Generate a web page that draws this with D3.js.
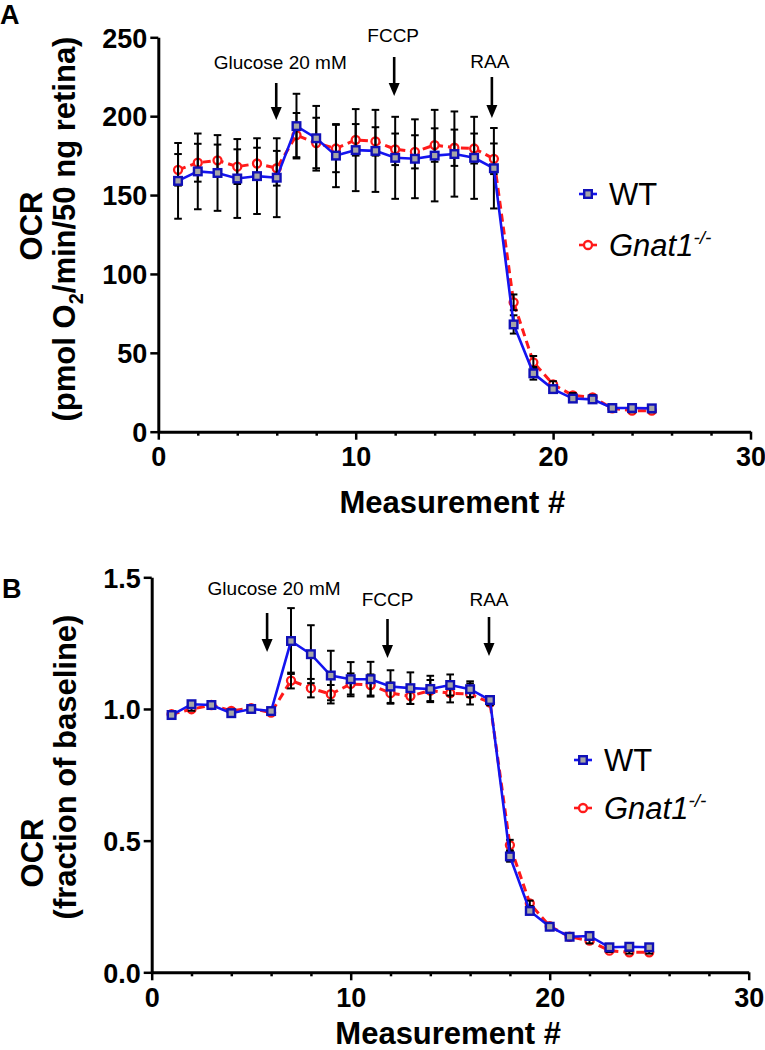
<!DOCTYPE html>
<html><head><meta charset="utf-8">
<script src="https://cdn.jsdelivr.net/npm/d3@7"></script>
<style>
body{margin:0;background:#fff;}
svg{display:block;font-family:"Liberation Sans",Arial,Helvetica,sans-serif;}
</style></head>
<body><svg id="chart" width="765" height="1050"></svg>
<script>
// ---------- data ----------
const measurements = [1,2,3,4,5,6,7,8,9,10,11,12,13,14,15,16,17,18,19,20,21,22,23,24,25];
const seriesNames = ["WT","Gnat1"];

const ocrWT     = [159,165,164,160.5,162,161,193.7,186,175,178.5,178,173.6,173,175,176,173.6,167,68,37,27,21,20.5,15,15,14.8];
const ocrWTErr  = [24,24,24,25,24,25,20.5,20.5,20,26,26,26,25,29,27,26,25.5,5.8,4,2,1.5,1.5,1,1,1];
const ocrKO     = [166,170.5,172,168,170,167,188,183,179.5,185,184,179,177.4,181.7,180,179.5,173,82,44,30,23,21.8,14.8,13.3,13.3];
const ocrKOErr  = [10,12,10,11,10,11,14,16,15,10,9,10,10.5,10.6,11.5,9.5,9.7,5,4,2,1.5,1.5,1,1,1];

const fracWT    = [0.977,1.018,1.015,0.984,1.0,0.992,1.258,1.208,1.127,1.113,1.113,1.085,1.079,1.076,1.091,1.075,1.034,0.44,0.233,0.173,0.135,0.138,0.095,0.097,0.095];
const fracWTErr = [0.005,0.008,0.005,0.008,0.006,0.006,0.125,0.11,0.094,0.065,0.066,0.062,0.06,0.05,0.04,0.03,0.01,0.02,0.01,0.005,0.005,0.015,0.005,0.005,0.005];
const fracKO    = [0.98,0.999,1.015,0.993,1.003,0.986,1.108,1.079,1.056,1.095,1.091,1.06,1.049,1.07,1.06,1.057,1.024,0.483,0.262,0.175,0.135,0.12,0.082,0.076,0.076];
const fracKOErr = [0.005,0.006,0.005,0.005,0.005,0.005,0.03,0.035,0.035,0.04,0.04,0.04,0.03,0.04,0.035,0.04,0.01,0.02,0.01,0.005,0.005,0.01,0.005,0.005,0.005];

const xTicks = [0,10,20,30];
const xMinorTicks = [2,4,6,8,12,14,16,18,22,24,26,28];
const yTicksA = [0,50,100,150,200,250];
const yTicksB = [0,0.5,1.0,1.5];
const injLabels = ["Glucose 20 mM","FCCP","RAA"];
const injAt = [6,12,17];

// ---------- style ----------
const BLUE = "#1414f0", BLUE_DK = "#1010b8", RED = "#ff1a1a", GRAY = "#a6a6a6";
const FONT = "\"Liberation Sans\",Arial,Helvetica,sans-serif";

const svg = d3.select("#chart");

function panel(cfg){
  const g = svg.append("g");
  const x = d3.scaleLinear().domain([0,30]).range([cfg.x0, cfg.x1]);
  const y = d3.scaleLinear().domain(cfg.yDomain).range([cfg.y0, cfg.y1]);

  // axes
  const xa = g.append("g").attr("transform",`translate(0,${cfg.y0})`)
    .call(d3.axisBottom(x).tickValues(xTicks).tickSize(8).tickSizeOuter(0).tickPadding(6).tickFormat(d3.format("d")));
  const xm = g.append("g").attr("transform",`translate(0,${cfg.y0})`)
    .call(d3.axisBottom(x).tickValues(xMinorTicks).tickSize(4).tickSizeOuter(0).tickFormat(""));
  xm.select(".domain").remove();
  const ya = g.append("g").attr("transform",`translate(${cfg.x0},0)`)
    .call(d3.axisLeft(y).tickValues(cfg.yTicks).tickSize(8).tickSizeOuter(0).tickPadding(3).tickFormat(cfg.yFmt));
  [xa,xm,ya].forEach(a=>{
    a.selectAll(".domain").attr("stroke","#000").attr("stroke-width",3);
    a.selectAll(".tick line").attr("stroke","#000").attr("stroke-width",2.5);
    a.selectAll("text").attr("fill","#000").style("font-family",FONT)
      .style("font-size","27px").style("font-weight","bold");
  });
  xa.selectAll(".tick text").attr("dy","0.75em");
  ya.selectAll(".tick text").attr("dy","0.36em");

  // red (Gnat1) line + circles
  const line = d3.line().x((d,i)=>x(measurements[i])).y(d=>y(d));
  g.append("path").datum(cfg.ko).attr("d",line).attr("fill","none")
    .attr("stroke",RED).attr("stroke-width",3).attr("stroke-dasharray","8,5");
  g.append("g").selectAll("circle").data(cfg.ko).join("circle")
    .attr("cx",(d,i)=>x(measurements[i])).attr("cy",d=>y(d)).attr("r",4)
    .attr("fill","#fff").attr("stroke",RED).attr("stroke-width",2.3);

  // error bars
  const eb = g.append("g").attr("stroke","#000").attr("stroke-width",2);
  [[cfg.ko,cfg.koErr],[cfg.wt,cfg.wtErr]].forEach(([v,e])=>{
    v.forEach((d,i)=>{
      const cx = x(measurements[i]), top = y(d+e[i]), bot = y(d-e[i]);
      eb.append("line").attr("x1",cx).attr("x2",cx).attr("y1",top).attr("y2",bot);
      eb.append("line").attr("x1",cx-3.8).attr("x2",cx+3.8).attr("y1",top).attr("y2",top);
      eb.append("line").attr("x1",cx-3.8).attr("x2",cx+3.8).attr("y1",bot).attr("y2",bot);
    });
  });

  // blue (WT) line + squares
  g.append("path").datum(cfg.wt).attr("d",line).attr("fill","none")
    .attr("stroke",BLUE).attr("stroke-width",2.6);
  g.append("g").selectAll("rect").data(cfg.wt).join("rect")
    .attr("x",(d,i)=>x(measurements[i])-3.8).attr("y",d=>y(d)-3.8)
    .attr("width",7.6).attr("height",7.6)
    .attr("fill",GRAY).attr("stroke",BLUE_DK).attr("stroke-width",2.4);

  // injection arrows
  injAt.forEach((m,k)=>{
    const ax = x(m) + cfg.arrowDx[k];
    const a = cfg.arrows[k];
    g.append("line").attr("x1",ax).attr("x2",ax).attr("y1",a[0]).attr("y2",a[1]-10)
      .attr("stroke","#000").attr("stroke-width",2.6);
    g.append("path").attr("d",`M${ax-5.5},${a[1]-13}L${ax+5.5},${a[1]-13}L${ax},${a[1]}Z`).attr("fill","#000");
    g.append("text").attr("x",ax+cfg.textDx[k]).attr("y",a[2]).attr("text-anchor","middle")
      .style("font-family",FONT).style("font-size","19px").attr("fill","#000").text(injLabels[k]);
  });

  // legend
  const lg = g.append("g");
  [0,1].forEach(k=>{
    const ly = cfg.legY[k], lx = cfg.legX;
    lg.append("line").attr("x1",lx-9).attr("x2",lx+9).attr("y1",ly).attr("y2",ly)
      .attr("stroke",k===0?BLUE:RED).attr("stroke-width",2.6);
    if(k===0){
      lg.append("rect").attr("x",lx-3.8).attr("y",ly-3.8).attr("width",7.6).attr("height",7.6)
        .attr("fill",GRAY).attr("stroke",BLUE_DK).attr("stroke-width",2.4);
      lg.append("text").attr("x",lx+21).attr("y",ly+11).style("font-family",FONT)
        .style("font-size","31px").attr("fill","#000").text(seriesNames[0]);
    } else {
      lg.append("circle").attr("cx",lx).attr("cy",ly).attr("r",4)
        .attr("fill","#fff").attr("stroke",RED).attr("stroke-width",2.3);
      const t = lg.append("text").attr("x",lx+21).attr("y",ly+11).style("font-family",FONT)
        .style("font-size","31px").style("font-style","italic").attr("fill","#000");
      t.append("tspan").text(seriesNames[1]);
      t.append("tspan").attr("dy",-12).style("font-size","19px").text("-/-");
    }
  });

  // axis titles
  g.append("text").attr("x",(cfg.x0+cfg.x1)/2 - 2).attr("y",cfg.xTitleY).attr("text-anchor","middle")
    .style("font-family",FONT).style("font-size","31px").style("font-weight","bold").text("Measurement #");
  g.append("text").attr("transform",`translate(${cfg.yT1[0]},${cfg.yT1[1]}) rotate(-90)`)
    .attr("text-anchor","middle").style("font-family",FONT).style("font-size","31px").style("font-weight","bold").text("OCR");
  const t2 = g.append("text").attr("transform",`translate(${cfg.yT2[0]},${cfg.yT2[1]}) rotate(-90)`)
    .attr("text-anchor","middle").style("font-family",FONT).style("font-size","31px").style("font-weight","bold");
  cfg.yTitle2(t2);

  // panel letter
  g.append("text").attr("x",cfg.letter[0]).attr("y",cfg.letter[1])
    .style("font-family",FONT).style("font-size","27px").style("font-weight","bold").text(cfg.letter[2]);
}

panel({
  x0:158.3, x1:750.5, y0:431.7, y1:37.3, yDomain:[0,250], yTicks:yTicksA, yFmt:d3.format("d"),
  wt:ocrWT, wtErr:ocrWTErr, ko:ocrKO, koErr:ocrKOErr,
  arrows:[[83,120,69],[57,96,42],[77,118,68]], arrowDx:[-0.5,-1,-2], textDx:[4,-1,-2],
  legX:588, legY:[194,245],
  xTitleY:513, yT1:[42,226], yT2:[75,229],
  yTitle2:t=>{ t.append("tspan").text("(pmol O");
               t.append("tspan").attr("dy",8).style("font-size","20px").text("2");
               t.append("tspan").attr("dy",-8).text("/min/50 ng retina)"); },
  letter:[0,24,"A"]
});

panel({
  x0:151.7, x1:748.7, y0:972.3, y1:577.3, yDomain:[0,1.5], yTicks:yTicksB, yFmt:d3.format(".1f"),
  wt:fracWT, wtErr:fracWTErr, ko:fracKO, koErr:fracKOErr,
  arrows:[[613,652,595],[619,658,606],[617,656,606]], arrowDx:[-4,-3,-1], textDx:[7,0,0],
  legX:583, legY:[760,808],
  xTitleY:1044, yT1:[43,853], yT2:[76,767],
  yTitle2:t=>{ t.text("(fraction of baseline)"); },
  letter:[2,598,"B"]
});
</script>
</body></html>
